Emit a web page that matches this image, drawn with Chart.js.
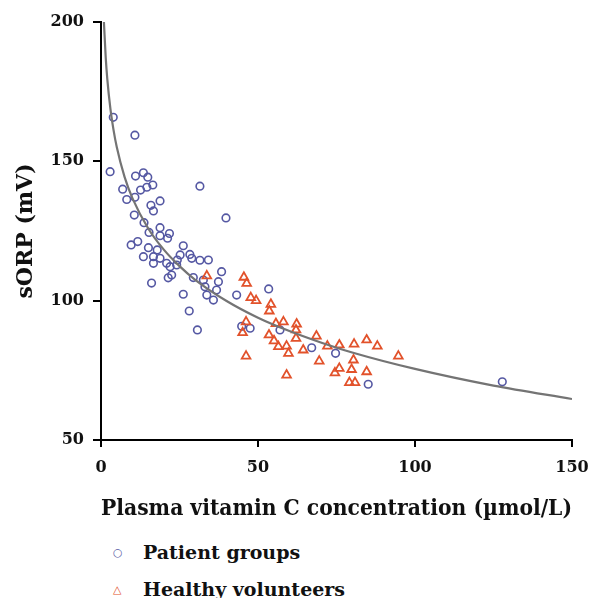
<!DOCTYPE html>
<html>
<head>
<meta charset="utf-8">
<script src="https://cdn.jsdelivr.net/npm/chart.js@4.4.1/dist/chart.umd.min.js"></script>
<style>
  body { margin: 0; background: #fff; font-family: 'DejaVu Serif', serif; }
  #wrap { width: 592px; height: 530px; }
  .legend { position: relative; height: 68px; }
  .item { position: absolute; left: 113px; font-weight: bold; font-size: 19px; color: #111; white-space: nowrap; }
  .item .mk { display: inline-block; width: 30px; font-family: 'DejaVu Sans'; font-size: 11px; vertical-align: 3px; }
</style>
</head>
<body>
<div id="wrap"><canvas id="chart" width="592" height="530"></canvas></div>
<div class="legend">
  <div class="item" style="top: 11px;"><span class="mk" style="color:#5b5ea6;">○</span>Patient groups</div>
  <div class="item" style="top: 48px;"><span class="mk" style="color:#e2522b;">△</span>Healthy volunteers</div>
</div>
<script>
// Patient groups (circles): vitamin C (umol/L), sORP (mV)
const patientX = [3.9, 10.8, 2.9, 11.0, 13.5, 14.9, 16.5, 14.6, 12.6, 6.9, 31.5, 8.2, 10.8, 15.9, 18.8, 16.7,
  10.6, 39.8, 13.7, 18.8, 15.3, 18.8, 21.8, 21.2, 9.6, 11.7, 15.1, 26.2, 17.9, 13.5, 16.7, 18.8, 16.7,
  20.9, 25.2, 24.3, 28.3, 28.9, 31.5, 34.2, 22.0, 24.1, 22.5, 21.4, 16.1, 26.2, 28.1, 30.7, 29.4, 32.6,
  33.1, 33.7, 35.8, 36.8, 37.4, 38.4, 43.2, 44.8, 47.5, 53.4, 57.0, 67.1, 74.7, 85.1, 127.8];
const patientY = [165.8, 159.4, 146.3, 144.7, 145.9, 144.3, 141.5, 140.7, 139.7, 140.0, 141.1, 136.3, 137.1, 134.2, 135.8, 132.2,
  130.7, 129.7, 128.0, 126.2, 124.5, 123.3, 124.1, 122.4, 120.0, 121.2, 119.0, 119.7, 118.2, 115.8, 115.8, 115.2, 113.4,
  113.4, 116.4, 114.6, 116.6, 115.2, 114.5, 114.6, 112.2, 112.8, 109.2, 108.2, 106.3, 102.3, 96.3, 89.5, 108.3, 107.4,
  105.0, 102.0, 100.2, 103.8, 106.8, 110.4, 102.0, 90.8, 90.1, 104.2, 89.5, 83.1, 81.1, 70.0, 70.9];

// Healthy volunteers (triangles)
const healthyX = [33.7, 45.5, 46.4, 47.7, 49.4, 54.1, 53.6, 46.2, 45.1, 46.2, 55.7, 58.1, 62.3, 62.1, 53.5, 55.1,
  56.5, 59.1, 59.7, 62.1, 64.4, 68.6, 69.5, 59.1, 72.1, 75.9, 80.6, 84.6, 88.0, 94.7, 80.4, 75.9, 74.5,
  79.8, 84.6, 79.1, 80.9];
const healthyY = [108.9, 108.4, 106.2, 101.1, 100.0, 98.7, 96.3, 92.4, 88.5, 80.1, 91.8, 92.4, 91.6, 89.5, 87.7, 85.6,
  83.5, 83.7, 81.1, 86.5, 82.3, 87.3, 78.3, 73.3, 83.7, 84.1, 84.4, 85.9, 83.7, 80.1, 78.7, 75.7, 74.1,
  75.3, 74.5, 70.6, 70.6];

// fitted curve
const curveX = [0.93, 1.5, 2, 3, 4, 5, 7.5, 10, 15, 20, 25, 30, 40, 50, 60, 70, 80, 100, 125, 150];
const curveY = [200, 187.3, 179.6, 168.8, 161.2, 155.2, 144.4, 136.8, 126.0, 118.3, 112.4, 107.5, 99.9, 93.9, 89.1, 85.0, 81.4, 75.5, 69.5, 64.7];

const xTicks = [0, 50, 100, 150];
const yTicks = [50, 100, 150, 200];

const toPts = (xs, ys) => xs.map((x, i) => ({ x: x, y: ys[i] }));

const serif = 'DejaVu Serif';

new Chart(document.getElementById('chart').getContext('2d'), {
    type: 'scatter',
    data: {
        datasets: [{
            label: 'Fit',
            data: toPts(curveX, curveY),
            showLine: true,
            borderColor: '#747474',
            borderWidth: 2.2,
            pointRadius: 0,
            cubicInterpolationMode: 'monotone',
            order: 0
        }, {
            label: 'Patient groups',
            data: toPts(patientX, patientY),
            pointStyle: 'circle',
            pointRadius: 3.8,
            borderWidth: 1.6,
            borderColor: '#5558a3',
            backgroundColor: 'rgba(255,255,255,0)',
            order: 2
        }, {
            label: 'Healthy volunteers',
            data: toPts(healthyX, healthyY),
            pointStyle: 'triangle',
            pointRadius: 5,
            borderWidth: 1.8,
            borderColor: '#e2522b',
            backgroundColor: 'rgba(255,255,255,0)',
            order: 1
        }]
    },
    options: {
        responsive: false,
        animation: false,
        layout: { padding: { top: 22, right: 20, bottom: 0, left: 13 } },
        plugins: {
            legend: { display: false },
            tooltip: { enabled: false }
        },
        scales: {
            x: {
                type: 'linear',
                min: 0,
                max: 150,
                afterFit: (s) => { s.height = 90; s.paddingLeft = 0; s.paddingRight = 0; },
                afterBuildTicks: (s) => { s.ticks = xTicks.map(v => ({ value: v })); },
                border: { color: '#000', width: 2 },
                grid: { drawOnChartArea: false, drawTicks: true, tickLength: 7, color: '#000', lineWidth: 2 },
                ticks: { color: '#111', padding: 11, font: { family: serif, size: 16, weight: 'bold' } },
                title: {
                    display: true,
                    text: 'Plasma vitamin C concentration (\u00b5mol/L)',
                    color: '#111',
                    font: { family: serif, size: 22, weight: 'bold' },
                    padding: { top: 0, bottom: 8 }
                }
            },
            y: {
                type: 'linear',
                min: 50,
                max: 200,
                afterFit: (s) => { s.width = 88; s.paddingTop = 0; s.paddingBottom = 0; },
                afterBuildTicks: (s) => { s.ticks = yTicks.map(v => ({ value: v })); },
                border: { color: '#000', width: 2 },
                grid: { drawOnChartArea: false, drawTicks: true, tickLength: 8, color: '#000', lineWidth: 2 },
                ticks: { color: '#111', padding: 9, font: { family: serif, size: 16, weight: 'bold' } },
                title: {
                    display: true,
                    text: 'sORP (mV)',
                    color: '#111',
                    font: { family: serif, size: 22, weight: 'bold' },
                    padding: { top: 0, bottom: 0 }
                }
            }
        }
    }
});
</script>
</body>
</html>
